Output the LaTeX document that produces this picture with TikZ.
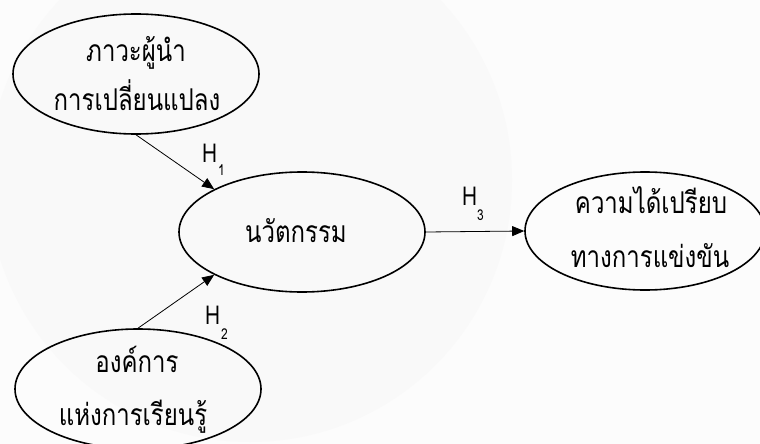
\documentclass[tikz,border=0pt]{standalone}
\usepackage{fontspec}
\newfontfamily\thai[Script=Thai,FakeStretch=0.8]{Loma}
\usetikzlibrary{arrows.meta,shapes.geometric}
\begin{document}
\begin{tikzpicture}[x=1pt,y=-1pt,
  ell/.style={draw, ellipse, line width=1.6pt, inner sep=0pt, minimum width=246pt, minimum height=120pt},
  txt/.style={font=\thai\fontsize{30}{30}\selectfont, inner sep=0pt, anchor=base},
  hyp/.style={font=\thai\fontsize{26}{26}\selectfont, inner sep=0pt, anchor=base west},
  sub/.style={font=\thai\fontsize{15}{15}\selectfont, inner sep=0pt, anchor=base west},
  link/.style={line width=0.8pt, -{Triangle[length=12pt,width=10pt]}}
]
\useasboundingbox (0,0) rectangle (760,444);
\fill[gray!2] (0,0) rectangle (760,444);
\begin{scope}
\clip (0,0) rectangle (760,444);
\fill[gray!5] (250,180) circle[radius=262];
\end{scope}

\node[ell] (a) at (136,74) {};
\node[ell] (b) at (302,232) {};
\node[ell, minimum width=240pt, minimum height=118pt] (c) at (645,231) {};
\node[ell] (d) at (138,389) {};

\node[txt] (a1) at (136,62) {ภาวะผู้นำ};
\node[txt] (a2) at (137,110) {การเปลี่ยนแปลง};
\node[txt] (b1) at (296,242) {นวัตกรรม};
\node[txt] (c1) at (651,213) {ความได้เปรียบ};
\node[txt] (c2) at (650,267) {ทางการแข่งขัน};
\node[txt] (d1) at (137,372) {องค์การ};
\node[txt] (d2) at (133,425) {แห่งการเรียนรู้};

\draw[link] (a.south) -- (b.154);
\draw[link] (d.north) -- (b.206);
\draw[link] (b.east) -- (c.west);

\node[hyp] (h1) at (202,162) {H};
\node[sub] (s1) at (218,175) {1};
\node[hyp] (h2) at (205,324) {H};
\node[sub] (s2) at (221,339) {2};
\node[hyp] (h3) at (462,205) {H};
\node[sub] (s3) at (477,220) {3};
\end{tikzpicture}
\end{document}
